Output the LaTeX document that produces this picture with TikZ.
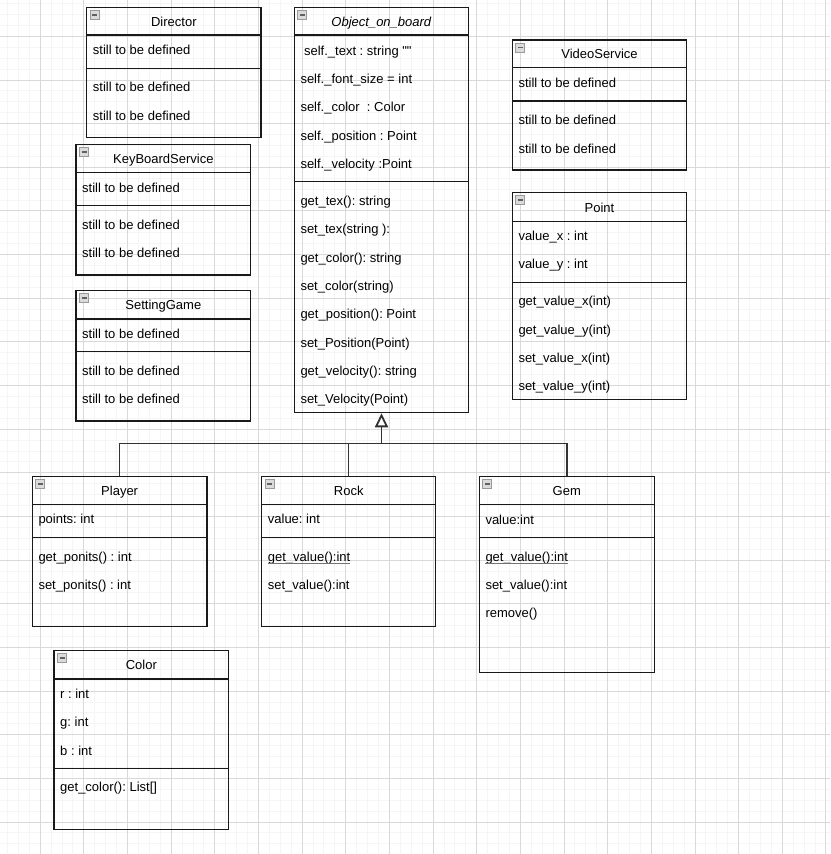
\documentclass[tikz,border=0pt]{standalone}
\usepackage{fontspec}
\newfontfamily\umlfont{Liberation Sans}
\usetikzlibrary{arrows.meta,fit,calc}
\frenchspacing
\tikzset{
 gridminor/.style={draw=black!4, line width=1pt},
 gridmajor/.style={draw=black!15, line width=1pt},
 box/.style={draw=black!90, line width=1.1pt, inner sep=0pt},
 sepline/.style={draw=black!90, line width=1.1pt},
 title/.style={font=\umlfont\fontsize{13}{15}\selectfont, anchor=base, inner sep=0pt},
 item/.style={font=\umlfont\fontsize{13}{15}\selectfont, anchor=base west, inner sep=0pt},
 icon/.style={draw=black!40, fill=black!14, line width=0.8pt},
 iconbar/.style={draw=black!62, line width=1.8pt},
 inherit/.style={draw=black!80, line width=1.4pt},
 ul/.style={draw=black!55, line width=0.7pt}
}
\newcommand\umlbox[8]{%
 \node[box, fit={(#2,#3) (#4,#5)}] (#1) {};
 \draw[sepline] (#2,#6) -- (#4,#6);
 \draw[sepline] (#2,#7) -- (#4,#7);
 \draw[icon] ({#2+3.5},{#3+3}) rectangle ({#2+12.5},{#3+12});
 \draw[iconbar] ({#2+5.5},{#3+7.5}) -- ({#2+10.5},{#3+7.5});
 \node[title] (#1-title) at ({(#2+#4)/2},{(#3+#6)/2+5}) {#8};
}
\begin{document}
\begin{tikzpicture}[x=1pt,y=-1pt]
\useasboundingbox[fill=white] (0,0) rectangle (830,854);
% grid
\foreach \i in {0,...,77}{\pgfmathsetmacro\gx{-3.4+\i*10.9125}\draw[gridminor] (\gx,0) -- (\gx,854);}
\foreach \i in {0,...,79}{\pgfmathsetmacro\gy{-7.3+\i*10.9125}\draw[gridminor] (0,\gy) -- (830,\gy);}
\foreach \i in {0,...,19}{\pgfmathsetmacro\gx{-3.4+\i*43.65}\draw[gridmajor] (\gx,0) -- (\gx,854);}
\foreach \i in {0,...,20}{\pgfmathsetmacro\gy{-7.3+\i*43.65}\draw[gridmajor] (0,\gy) -- (830,\gy);}

% Director
\umlbox{director}{86.7}{7.3}{261}{137.7}{35}{68.3}{Director}
\node[item] (director-a1) at (92.7,54.5) {still to be defined};
\node[item] (director-m1) at (92.7,91.7) {still to be defined};
\node[item] (director-m2) at (92.7,120.5) {still to be defined};

% KeyBoardService
\umlbox{keyboard}{76}{144.3}{250.7}{275}{172.7}{205.7}{KeyBoardService}
\node[item] (keyboard-a1) at (82,192.3) {still to be defined};
\node[item] (keyboard-m1) at (82,229.3) {still to be defined};
\node[item] (keyboard-m2) at (82,257.3) {still to be defined};

% SettingGame
\umlbox{setting}{76}{290.3}{250.7}{421}{319}{351.7}{SettingGame}
\node[item] (setting-a1) at (82,338.3) {still to be defined};
\node[item] (setting-m1) at (82,375.7) {still to be defined};
\node[item] (setting-m2) at (82,403.3) {still to be defined};

% VideoService
\umlbox{video}{512.3}{40}{686.7}{170}{67.7}{101}{VideoService}
\node[item] (video-a1) at (518.3,87.3) {still to be defined};
\node[item] (video-m1) at (518.3,124.7) {still to be defined};
\node[item] (video-m2) at (518.3,153.3) {still to be defined};

% Point
\umlbox{point}{512.3}{192.7}{686.7}{399.3}{221.7}{282.3}{Point}
\node[item] (point-a1) at (518.3,240) {value\_x : int};
\node[item] (point-a2) at (518.3,268.3) {value\_y : int};
\node[item] (point-m1) at (518.3,305.7) {get\_value\_x(int)};
\node[item] (point-m2) at (518.3,334) {get\_value\_y(int)};
\node[item] (point-m3) at (518.3,362.3) {set\_value\_x(int)};
\node[item] (point-m4) at (518.3,390.7) {set\_value\_y(int)};

% Object_on_board
\umlbox{obj}{294.3}{7.3}{468.7}{412.7}{35}{181.7}{\textit{Object\_on\_board}}
\node[item] (obj-a1) at (300.3,55) {\hspace*{3.6pt}self.\_text : string ""};
\node[item] (obj-a2) at (300.3,83.7) {self.\_font\_size = int};
\node[item] (obj-a3) at (300.3,111.7) {self.\_color\ \ : Color};
\node[item] (obj-a4) at (300.3,140) {self.\_position : Point};
\node[item] (obj-a5) at (300.3,168.3) {self.\_velocity :Point};
\node[item] (obj-m1) at (300.3,205) {get\_tex(): string};
\node[item] (obj-m2) at (300.3,233.5) {set\_tex(string ):};
\node[item] (obj-m3) at (300.3,262) {get\_color(): string};
\node[item] (obj-m4) at (300.3,290.3) {set\_color(string)};
\node[item] (obj-m5) at (300.3,318.7) {get\_position(): Point};
\node[item] (obj-m6) at (300.3,347) {set\_Position(Point)};
\node[item] (obj-m7) at (300.3,375.3) {get\_velocity(): string};
\node[item] (obj-m8) at (300.3,403.5) {set\_Velocity(Point)};

% Player
\umlbox{player}{32.3}{476.3}{207}{626.7}{504.3}{537.3}{Player}
\node[item] (player-a1) at (38.3,523.3) {points: int};
\node[item] (player-m1) at (38.3,561) {get\_ponits() : int};
\node[item] (player-m2) at (38.3,589.3) {set\_ponits() : int};

% Rock
\umlbox{rock}{261.7}{476.3}{435.7}{626.7}{504.3}{537.3}{Rock}
\node[item] (rock-a1) at (267.7,523.7) {value: int};
\node[item] (rock-m1) at (267.7,561) {get\_value():int};
\node[item] (rock-m2) at (267.7,589.3) {set\_value():int};
\draw[ul] ([yshift=-2.3pt]rock-m1.base west) -- ([yshift=-2.3pt]rock-m1.base east);

% Gem
\umlbox{gem}{479.3}{476.3}{654.3}{672.3}{504.3}{537.3}{Gem}
\node[item] (gem-a1) at (485.3,524) {value:int};
\node[item] (gem-m1) at (485.3,561.5) {get\_value():int};
\node[item] (gem-m2) at (485.3,589.3) {set\_value():int};
\node[item] (gem-m3) at (485.3,617.7) {remove()};
\draw[ul] ([yshift=-2.3pt]gem-m1.base west) -- ([yshift=-2.3pt]gem-m1.base east);

% Color
\umlbox{color}{54}{650.7}{228.7}{829.3}{679}{768.3}{Color}
\node[item] (color-a1) at (60,698.3) {r : int};
\node[item] (color-a2) at (60,726.3) {g: int};
\node[item] (color-a3) at (60,755.3) {b : int};
\node[item] (color-m1) at (60,791.7) {get\_color(): List[]};

% inheritance
\coordinate (joint) at (obj.south |- 0,443.3);
\draw[inherit] (player.north) |- (joint);
\draw[inherit] (rock.north) |- (joint);
\draw[inherit] (gem.north) |- (joint);
\draw[inherit, -{Triangle[open, length=14pt, width=13pt, line width=1.8pt]}] (joint) -- (obj.south);
\end{tikzpicture}
\end{document}
